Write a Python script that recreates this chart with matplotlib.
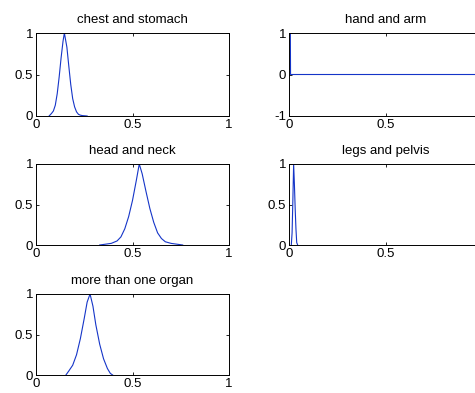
import matplotlib
matplotlib.use("Agg")
import matplotlib.pyplot as plt

plt.rcParams['font.family'] = ['Liberation Sans', 'DejaVu Sans']
plt.rcParams['font.size'] = 9.5

chest_x = [0.068, 0.08, 0.09, 0.10, 0.11, 0.12, 0.13, 0.14, 0.147, 0.16, 0.17, 0.18, 0.19, 0.20, 0.21, 0.22, 0.23, 0.24, 0.265]
chest_y = [0.0, 0.03, 0.06, 0.13, 0.27, 0.47, 0.70, 0.90, 1.0, 0.83, 0.60, 0.38, 0.21, 0.11, 0.05, 0.02, 0.01, 0.005, 0.0]

hand_x = [0.007, 0.008, 1.0]
hand_y = [1.0, 0.0, 0.0]

head_x = [0.33, 0.36, 0.39, 0.42, 0.44, 0.46, 0.48, 0.50, 0.52, 0.535, 0.55, 0.57, 0.59, 0.61, 0.63, 0.65, 0.67, 0.70, 0.73, 0.76]
head_y = [0.0, 0.01, 0.02, 0.05, 0.10, 0.20, 0.35, 0.55, 0.80, 1.0, 0.88, 0.66, 0.45, 0.28, 0.15, 0.08, 0.04, 0.02, 0.01, 0.0]

legs_x = [0.012, 0.016, 0.02, 0.024, 0.028, 0.032, 0.036, 0.04, 0.045]
legs_y = [0.0, 0.15, 0.55, 1.0, 0.75, 0.45, 0.2, 0.03, 0.0]

more_x = [0.155, 0.17, 0.19, 0.21, 0.23, 0.25, 0.265, 0.28, 0.295, 0.31, 0.33, 0.35, 0.37, 0.385, 0.397]
more_y = [0.0, 0.05, 0.12, 0.25, 0.45, 0.70, 0.90, 1.0, 0.85, 0.62, 0.38, 0.20, 0.08, 0.02, 0.0]

titles = ["chest and stomach", "hand and arm", "head and neck", "legs and pelvis", "more than one organ"]

fig = plt.figure(figsize=(4.75, 3.93), dpi=100)

W = 193 / 475
left_cols = [36 / 475, 289 / 475]
rows = [(1 - 116 / 393, 83 / 393), (1 - 245 / 393, 81 / 393), (1 - 375 / 393, 81 / 393)]

panels = [
    (0, 0, chest_x, chest_y, (0, 1)),
    (0, 1, hand_x, hand_y, (-1, 1)),
    (1, 0, head_x, head_y, (0, 1)),
    (1, 1, legs_x, legs_y, (0, 1)),
    (2, 0, more_x, more_y, (0, 1)),
]

for i, (r, c, xs, ys, ylim) in enumerate(panels):
    b, h = rows[r]
    ax = fig.add_axes([left_cols[c], b, W, h])
    ax.plot(xs, ys, color='#1535c8', lw=0.8)
    ax.set_xlim(0, 1)
    ax.set_ylim(*ylim)
    ax.set_xticks([0, 0.5, 1])
    if c == 0:
        ax.set_xticklabels(["0", "0.5", "1"])
    else:
        ax.set_xticklabels(["0", "0.5", ""])
    if ylim[0] == -1:
        ax.set_yticks([-1, 0, 1])
        ax.set_yticklabels(["-1", "0", "1"])
    else:
        ax.set_yticks([0, 0.5, 1])
        ax.set_yticklabels(["0", "0.5", "1"])
    ax.tick_params(direction='in', length=2, width=0.6, top=True, right=True, labelsize=9.5, pad=2, colors='black')
    for s in ax.spines.values():
        s.set_linewidth(0.7)
    ax.set_title(titles[i], fontsize=9.5, pad=7)

fig.savefig("out.png", dpi=100)
